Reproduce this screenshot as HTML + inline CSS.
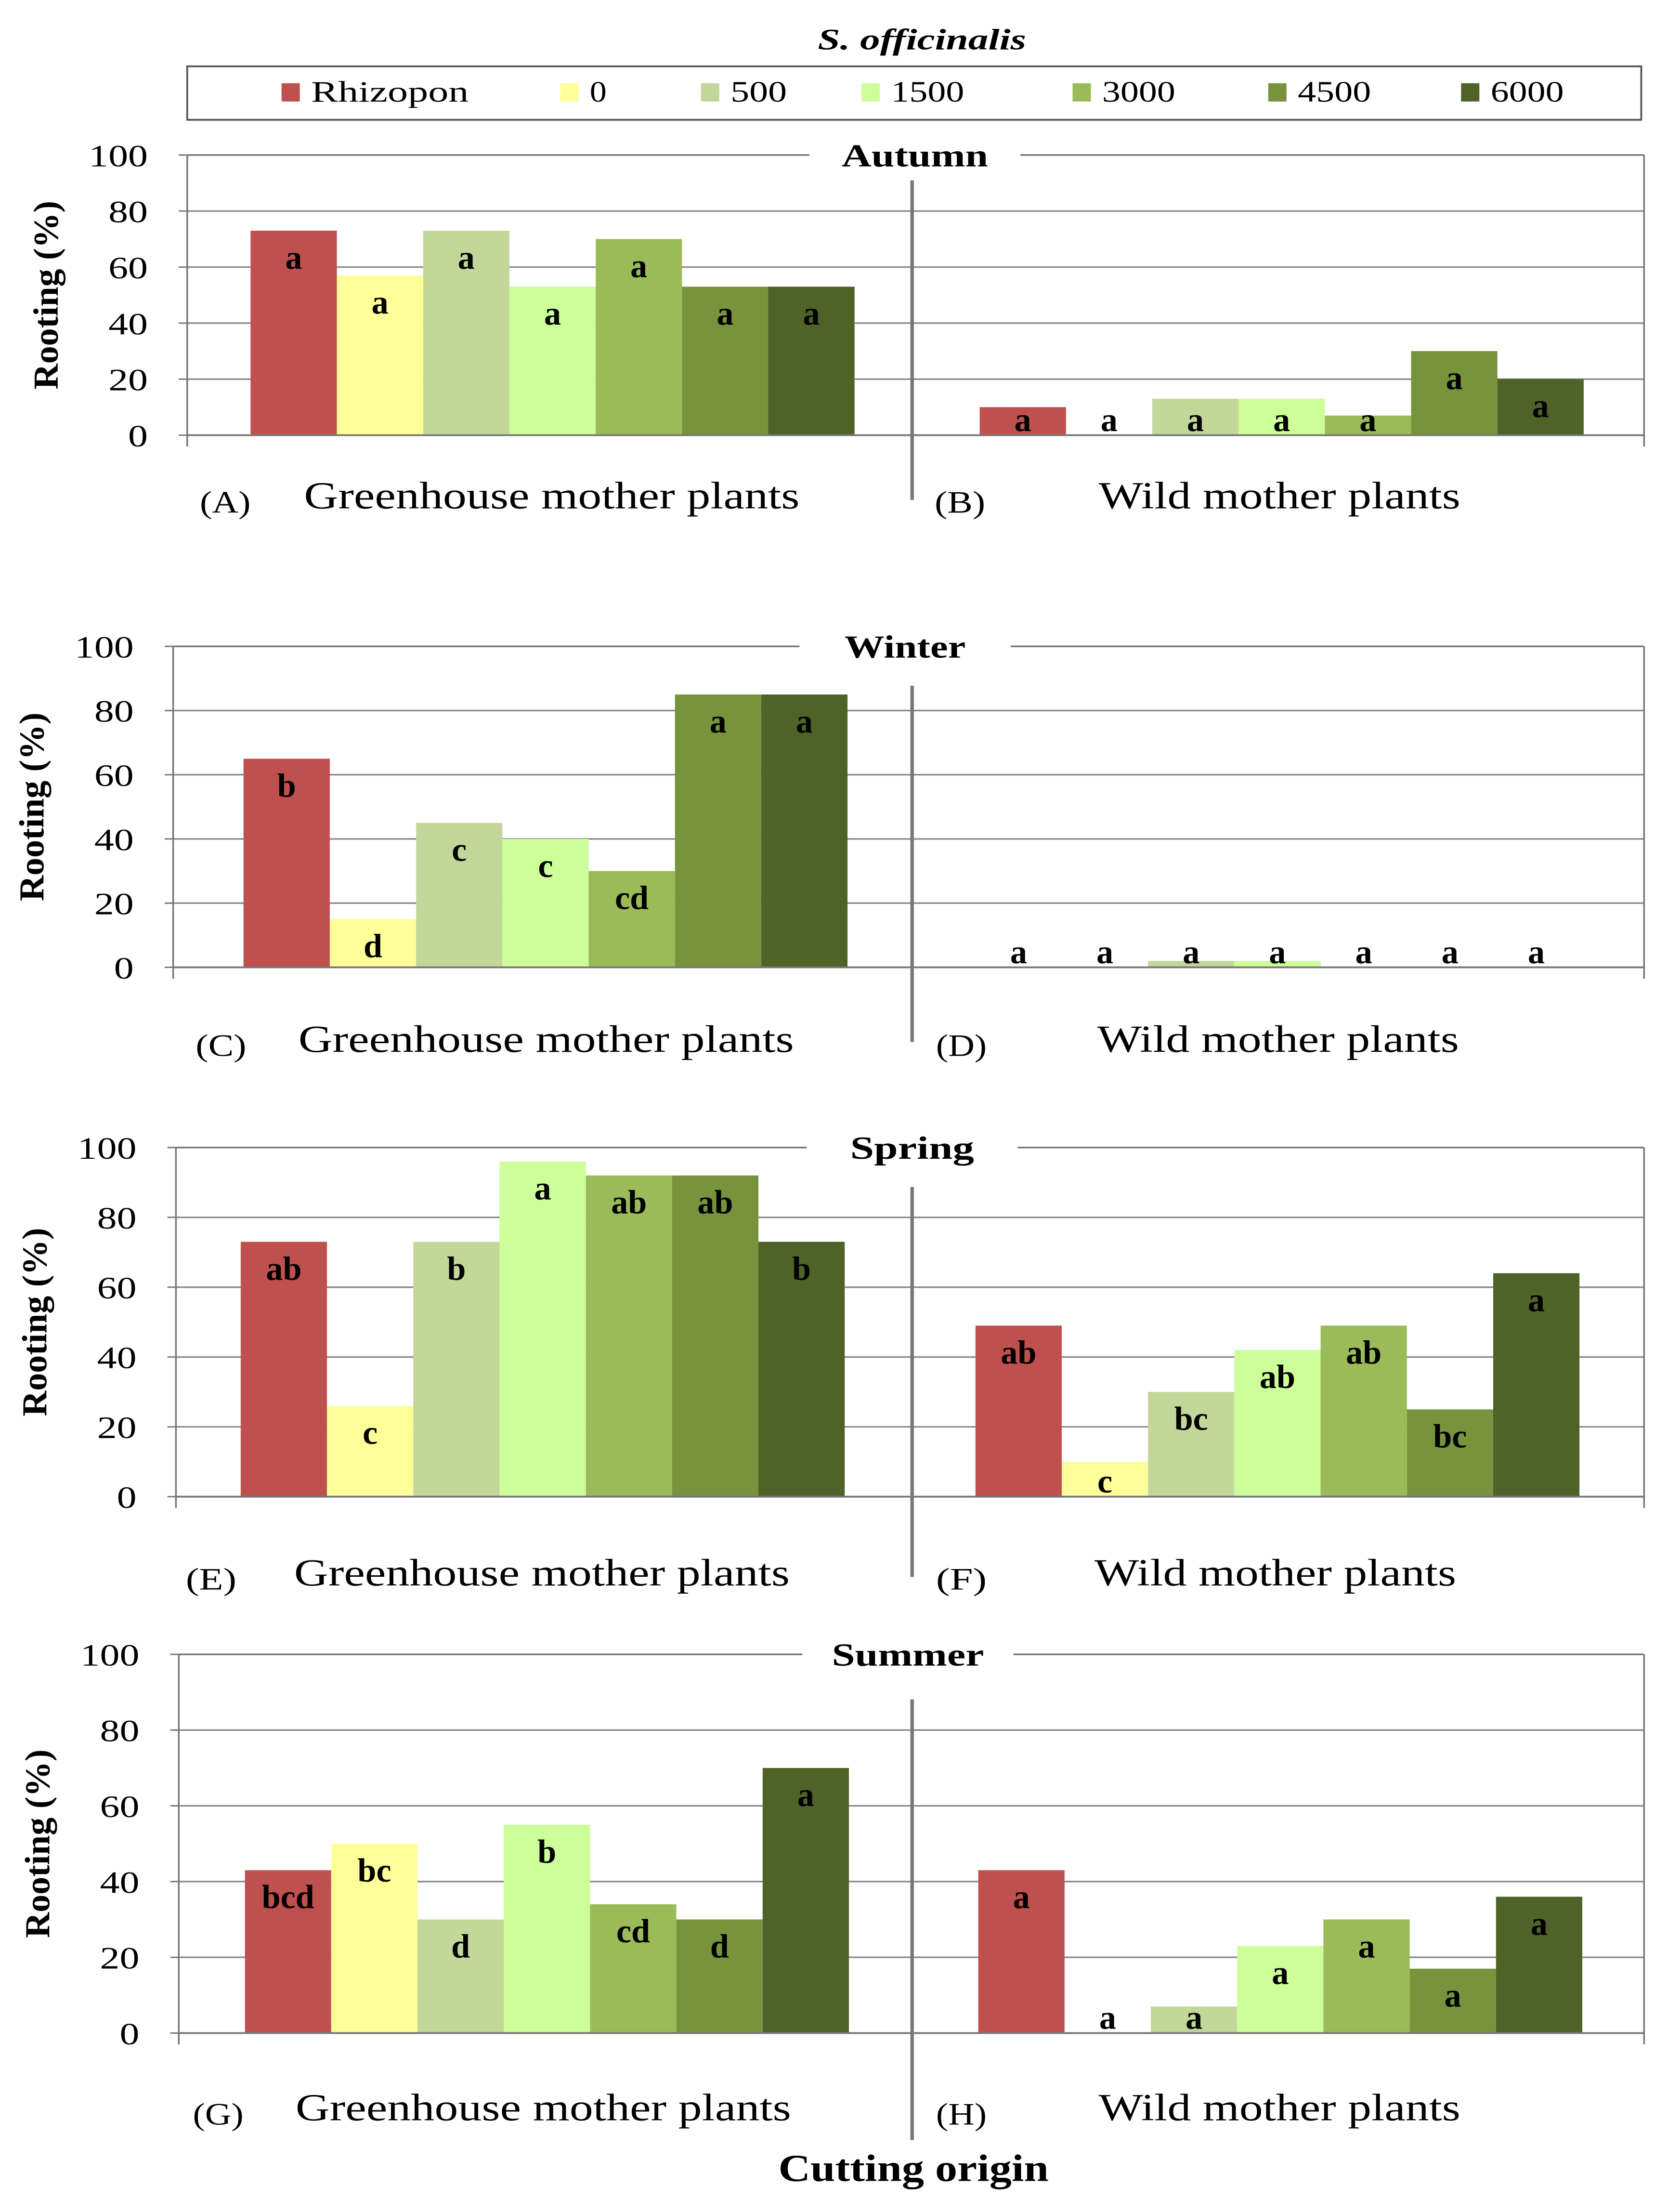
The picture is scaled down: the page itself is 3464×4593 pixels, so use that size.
<!DOCTYPE html>
<html><head><meta charset="utf-8">
<style>
html,body{margin:0;padding:0;background:#fff;}
svg{display:block;font-family:"Liberation Serif",serif;}
</style></head>
<body>
<svg id="chart" width="3464" height="4593" viewBox="0 0 1185 1571" xmlns="http://www.w3.org/2000/svg">
<rect x="0" y="0" width="1185" height="1571" fill="#fff"/>
<text x="655" y="35" text-anchor="middle" font-size="21" font-weight="bold" font-style="italic" textLength="148" lengthAdjust="spacingAndGlyphs">S. officinalis</text>
<g id="legend">
<rect x="133" y="47" width="1033" height="38" fill="#fff" stroke="#555" stroke-width="1.3"/>
</g>
<g id="panels"></g>
<text x="649" y="1549" text-anchor="middle" font-size="27" font-weight="bold" textLength="192" lengthAdjust="spacingAndGlyphs">Cutting origin</text>
</svg>
<script>
const NS="http://www.w3.org/2000/svg";
const series=["Rhizopon","0","500","1500","3000","4500","6000"];
const colors=["#C0504D","#FFFF99","#C4D79B","#CCFF99","#9BBB59","#77933C","#4F6228"];
const seasons=["Autumn","Winter","Spring","Summer"];
const greenhouseVals=[[73,57,73,53,70,53,53],[65,15,45,40,30,85,85],[73,26,73,96,92,92,73],[43,50,30,55,34,30,70]];
const greenhouseLetters=[["a","a","a","a","a","a","a"],["b","d","c","c","cd","a","a"],["ab","c","b","a","ab","ab","b"],["bcd","bc","d","b","cd","d","a"]];
const wildVals=[[10,0,13,13,7,30,20],[0,0,2,2,0,0,0],[49,10,30,42,49,25,64],[43,0,7,23,30,17,36]];
const wildLetters=[["a","a","a","a","a","a","a"],["a","a","a","a","a","a","a"],["ab","c","bc","ab","ab","bc","a"],["a","a","a","a","a","a","a"]];
const yTicks=[0,20,40,60,80,100];
const panelLabels=[["(A)","(B)"],["(C)","(D)"],["(E)","(F)"],["(G)","(H)"]];

const L=[
 {top:110,zero:309,left:133,tx:650,div:[128,355],g0:178,w0:696,lab:352,gx:[160,392],wx:[682,909]},
 {top:459,zero:687,left:123,tx:643,div:[487,740],g0:173,w0:693,lab:738,gx:[157,388],wx:[683,908]},
 {top:815,zero:1063,left:125,tx:648,div:[843,1120],g0:171,w0:693,lab:1117,gx:[150,385],wx:[683,906]},
 {top:1175,zero:1444,left:127,tx:645,div:[1207,1520],g0:174,w0:695,lab:1497,gx:[155,386],wx:[683,909]}
];
const titleW=[104,86,88,108];
const RIGHT=1168, BW=61.3;
function mk(tag,attrs,parent,text){const e=document.createElementNS(NS,tag);for(const k in attrs)e.setAttribute(k,attrs[k]);if(text!==undefined)e.textContent=text;parent.appendChild(e);return e;}

const lg=document.getElementById('legend');
const legX=[200,398,498,612,762,901,1038];
const legW=[112,12,40,52,52,52,52];
series.forEach((s,i)=>{
 const r=mk('rect',{x:legX[i],y:59,width:13,height:13,fill:colors[i]},lg);
 
 
 const t=mk('text',{x:legX[i]+21,y:72,'font-size':21,textLength:legW[i],lengthAdjust:'spacingAndGlyphs'},lg,s);
 
 
});

const root=document.getElementById('panels');
seasons.forEach((season,p)=>{
 const c=L[p];
 const g=mk('g',{},root);
 
 
 const y=v=>c.zero-(c.zero-c.top)*v/100;
 yTicks.forEach(v=>{
  if(v===100){
   mk('line',{x1:c.left,x2:c.tx-75,y1:y(v),y2:y(v),stroke:'#777','stroke-width':1.2},g);
   mk('line',{x1:c.tx+75,x2:RIGHT,y1:y(v),y2:y(v),stroke:'#777','stroke-width':1.2},g);
  } else {
   mk('line',{x1:c.left,x2:RIGHT,y1:y(v),y2:y(v),stroke:'#888','stroke-width':1.1},g);
  }
  const s=String(v);
  const t=mk('text',{x:c.left-28,y:y(v)+8,'text-anchor':'end','font-size':22,textLength:s.length*14,lengthAdjust:'spacingAndGlyphs'},g,s);
  
  
  mk('line',{x1:c.left-6,x2:c.left,y1:y(v),y2:y(v),stroke:'#777'},g);
 });
 mk('line',{x1:c.left,x2:c.left,y1:c.top,y2:c.zero+8,stroke:'#777','stroke-width':1.2},g);
 mk('line',{x1:RIGHT,x2:RIGHT,y1:c.top,y2:c.zero+8,stroke:'#777','stroke-width':1.2},g);
 const tt=mk('text',{x:c.tx,y:c.top+8,'text-anchor':'middle','font-size':23,'font-weight':'bold',textLength:titleW[p],lengthAdjust:'spacingAndGlyphs'},g,season);
 
 
 const yt=mk('text',{transform:`translate(${c.left-92},${(c.top+c.zero)/2}) rotate(-90)`,'text-anchor':'middle','font-size':25,'font-weight':'bold',textLength:134,lengthAdjust:'spacingAndGlyphs'},g,'Rooting (%)');
 
 
 const draw=(vals,letters,x0,grp)=>{
  vals.forEach((v,i)=>{
   const x=x0+i*BW, top=y(v);
   const b=mk('rect',{x:x,y:top,width:BW,height:c.zero-top,fill:colors[i]},g);
   
   
   const ly=Math.min(top+27,c.zero-3);
   const t=mk('text',{x:x+BW/2,y:ly,'text-anchor':'middle','font-size':24,'font-weight':'bold'},g,letters[i]);
   
   
  });
 };
 draw(greenhouseVals[p],greenhouseLetters[p],c.g0,'greenhouse');
 draw(wildVals[p],wildLetters[p],c.w0,'wild');
 mk('line',{x1:c.left,x2:RIGHT,y1:c.zero,y2:c.zero,stroke:'#777','stroke-width':1.3},g);
 mk('line',{x1:648,x2:648,y1:c.div[0],y2:c.div[1],stroke:'#777','stroke-width':2.5},g);
 const a=mk('text',{x:c.gx[0],y:c.lab+12,'text-anchor':'middle','font-size':22,textLength:36,lengthAdjust:'spacingAndGlyphs'},g,panelLabels[p][0]);
 
 
 const b=mk('text',{x:c.gx[1],y:c.lab+9,'text-anchor':'middle','font-size':27,textLength:352,lengthAdjust:'spacingAndGlyphs'},g,'Greenhouse mother plants');
 
 
 const d=mk('text',{x:c.wx[0],y:c.lab+12,'text-anchor':'middle','font-size':22,textLength:36,lengthAdjust:'spacingAndGlyphs'},g,panelLabels[p][1]);
 
 
 const e=mk('text',{x:c.wx[1],y:c.lab+9,'text-anchor':'middle','font-size':27,textLength:257,lengthAdjust:'spacingAndGlyphs'},g,'Wild mother plants');
 
 
});
</script>
</body></html>
